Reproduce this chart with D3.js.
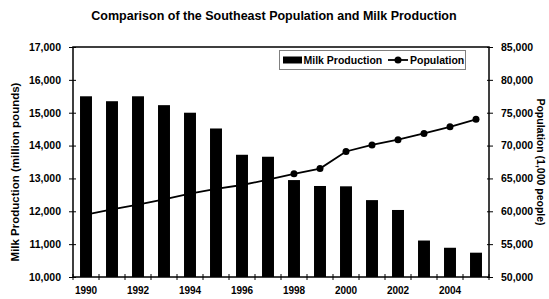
<!DOCTYPE html>
<html>
<head>
<meta charset="utf-8">
<script src="https://cdn.jsdelivr.net/npm/d3@7"></script>
<style>
  body { margin: 0; background: #fff; }
  svg { display: block; font-family: "Liberation Sans", Arial, sans-serif; font-weight: bold; }
</style>
</head>
<body>
<div id="chart"></div>
<script>
// data
const years = d3.range(1990, 2006);
const milk = [15500, 15350, 15500, 15230, 15000, 14520, 13720, 13660, 12950, 12770, 12760, 12340, 12040, 11110, 10890, 10740];
const population = [59500, 60300, 61000, 61800, 62700, 63400, 64000, 64800, 65700, 66500, 69100, 70100, 70900, 71850, 72850, 74000];
const milkTicks = d3.range(10000, 17001, 1000);
const popTicks = d3.range(50000, 85001, 5000);
const yearLabels = [1990, 1992, 1994, 1996, 1998, 2000, 2002, 2004];

const width = 549, height = 299;
const plotLeft = 73, plotRight = 489, plotTop = 47, plotBottom = 277;

const svg = d3.select('#chart').append('svg')
  .attr('width', width)
  .attr('height', height);

const x = d3.scaleBand()
  .domain(years)
  .range([plotLeft, plotRight])
  .paddingInner(0.54)
  .paddingOuter(0.27);

const yMilk = d3.scaleLinear().domain([10000, 17000]).range([plotBottom, plotTop]);
const yPop = d3.scaleLinear().domain([50000, 85000]).range([plotBottom, plotTop]);
const fmt = d3.format(',');

// title
svg.append('text')
  .attr('x', 274)
  .attr('y', 19.5)
  .attr('text-anchor', 'middle')
  .attr('font-size', '12.5px')
  .text('Comparison of the Southeast Population and Milk Production');

// bars
svg.append('g')
  .selectAll('rect')
  .data(years)
  .join('rect')
  .attr('x', d => x(d))
  .attr('width', x.bandwidth())
  .attr('y', (d, i) => yMilk(milk[i]))
  .attr('height', (d, i) => plotBottom - yMilk(milk[i]))
  .attr('fill', '#000');

// plot frame
svg.append('rect')
  .attr('x', plotLeft)
  .attr('y', plotTop)
  .attr('width', plotRight - plotLeft)
  .attr('height', plotBottom - plotTop)
  .attr('fill', 'none')
  .attr('stroke', '#000')
  .attr('stroke-width', 1.5);

// left axis
const leftAxis = svg.append('g')
  .attr('transform', `translate(${plotLeft},0)`)
  .call(d3.axisLeft(yMilk).tickValues(milkTicks).tickFormat(fmt).tickSize(4).tickPadding(8));
leftAxis.select('.domain').remove();
leftAxis.selectAll('.tick line').attr('x2', 3).attr('x1', -4).attr('stroke', '#000');
leftAxis.selectAll('text').attr('font-size', '10.5px').attr('font-family', null).attr('fill', '#000');

// right axis
const rightAxis = svg.append('g')
  .attr('transform', `translate(${plotRight},0)`)
  .call(d3.axisRight(yPop).tickValues(popTicks).tickFormat(fmt).tickSize(4).tickPadding(8));
rightAxis.select('.domain').remove();
rightAxis.selectAll('.tick line').attr('x1', -2).attr('x2', 4).attr('stroke', '#000');
rightAxis.selectAll('text').attr('font-size', '10.5px').attr('font-family', null).attr('fill', '#000');

// bottom ticks on category boundaries
const step = x.step();
svg.append('g')
  .selectAll('line')
  .data(d3.range(years.length + 1))
  .join('line')
  .attr('x1', i => plotLeft + i * step)
  .attr('x2', i => plotLeft + i * step)
  .attr('y1', plotBottom - 3)
  .attr('y2', plotBottom + 3)
  .attr('stroke', '#000');

svg.append('g')
  .selectAll('text')
  .data(yearLabels)
  .join('text')
  .attr('x', d => x(d) + x.bandwidth() / 2)
  .attr('y', 294)
  .attr('text-anchor', 'middle')
  .attr('font-size', '10px')
  .text(d => d);

// axis titles
svg.append('text')
  .attr('transform', 'translate(19,172) rotate(-90)')
  .attr('text-anchor', 'middle')
  .attr('font-size', '11.5px')
  .text('Milk Production (million pounds)');

svg.append('text')
  .attr('transform', 'translate(537,162) rotate(90)')
  .attr('text-anchor', 'middle')
  .attr('font-size', '10.5px')
  .text('Population (1,000 people)');

// population line
const cx = d => x(d) + x.bandwidth() / 2;
const line = d3.line()
  .x((d, i) => cx(years[i]))
  .y(d => yPop(d));

svg.append('path')
  .datum(population)
  .attr('d', line)
  .attr('fill', 'none')
  .attr('stroke', '#000')
  .attr('stroke-width', 1.8);

svg.append('g')
  .selectAll('circle')
  .data(population)
  .join('circle')
  .attr('cx', (d, i) => cx(years[i]))
  .attr('cy', d => yPop(d))
  .attr('r', 3.5)
  .attr('fill', '#000');

// legend
const legend = svg.append('g');
legend.append('rect')
  .attr('x', 279.5).attr('y', 50.5)
  .attr('width', 186).attr('height', 19)
  .attr('fill', '#fff')
  .attr('stroke', '#000')
  .attr('stroke-dasharray', '1,1');
legend.append('rect')
  .attr('x', 283).attr('y', 56.5)
  .attr('width', 19).attr('height', 7)
  .attr('fill', '#000');
legend.append('text')
  .attr('x', 303.5).attr('y', 63.8)
  .attr('font-size', '10.5px')
  .text('Milk Production');
legend.append('line')
  .attr('x1', 388).attr('x2', 408)
  .attr('y1', 60).attr('y2', 60)
  .attr('stroke', '#000').attr('stroke-width', 1.8);
legend.append('circle')
  .attr('cx', 398).attr('cy', 60).attr('r', 3.5)
  .attr('fill', '#000');
legend.append('text')
  .attr('x', 410).attr('y', 63.8)
  .attr('font-size', '10.5px')
  .text('Population');
</script>
</body>
</html>
